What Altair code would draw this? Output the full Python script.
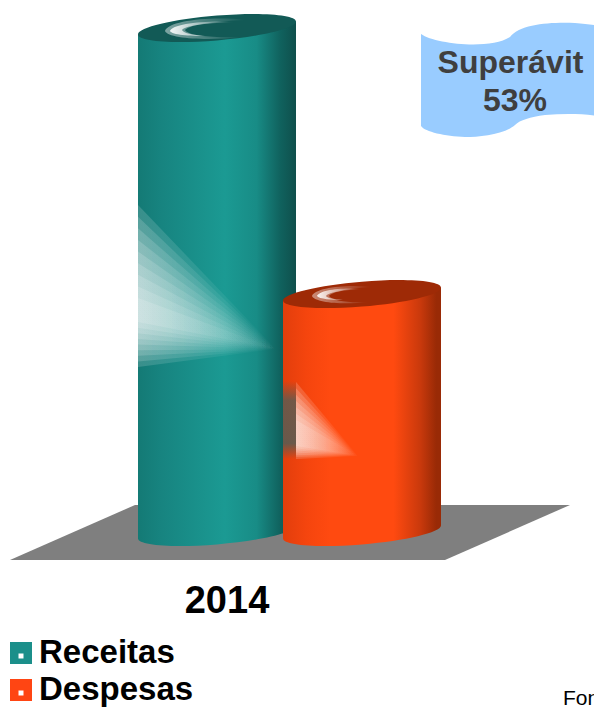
import altair as alt
import pandas as pd

# ---- chart values ----
categories = ["Receitas", "Despesas"]
values = [100.0, 47.2]
year_label = "2014"
note_lines = ["Superávit", "53%"]
source_text = "Fonte"

W, H = 586, 699
OX, OY = 8, 8
# y scale: value 0 sits at page y 532, 5.04 px per unit
Y_DOMAIN = [(532 - (OY + H)) / 5.04, (532 - OY) / 5.04]
TILT = 1.29
centres = {"Receitas": 217 - OX, "Despesas": 362 - OX}
HALF = 79


def px(v):
    return alt.value(v - OX)


def py(v):
    return alt.value(v - OY)


def linear(stops, x1=0, y1=0, x2=1, y2=0):
    return {"gradient": "linear", "x1": x1, "y1": y1, "x2": x2, "y2": y2,
            "stops": [{"offset": o, "color": c} for o, c in stops]}


def ellipse_path(s=-0.082, b=0.157, k=0.5523):
    Cx, Cy, Dx, Dy = 1, s, 0, b
    pts = [
        ("M", [(Cx, Cy)]),
        ("C", [(Cx + k * Dx, Cy + k * Dy), (Dx + k * Cx, Dy + k * Cy), (Dx, Dy)]),
        ("C", [(Dx - k * Cx, Dy - k * Cy), (-Cx + k * Dx, -Cy + k * Dy), (-Cx, -Cy)]),
        ("C", [(-Cx - k * Dx, -Cy - k * Dy), (-Dx - k * Cx, -Dy - k * Cy), (-Dx, -Dy)]),
        ("C", [(-Dx + k * Cx, -Dy + k * Cy), (Cx - k * Dx, Cy - k * Dy), (Cx, Cy)]),
    ]
    return " ".join(c + " ".join(f"{x:.4f},{y:.4f}" for x, y in p) for c, p in pts) + "Z"


ELLIPSE = ellipse_path()

teal_side = linear([(0, "#147a75"), (0.15, "#178480"), (0.55, "#1b9a93"), (0.75, "#188c86"),
                    (0.9, "#10625e"), (1, "#0f4f4c")])
orange_side = linear([(0, "#e23e0c"), (0.15, "#f5450e"), (0.3, "#ff4a10"), (0.7, "#ff4a10"),
                      (0.87, "#c9390c"), (0.97, "#992a06"), (1, "#992a06")])
sides = {"Receitas": teal_side, "Despesas": orange_side}
tops = {"Receitas": "#125a56", "Despesas": "#9e2a06"}

x_scale = alt.Scale(domain=[0, W], range=[0, W], nice=False, zero=False)
y_scale = alt.Scale(domain=Y_DOMAIN, nice=False, zero=False)


def glyph(path, fill, opacity=1):
    # decoration drawn by a custom symbol; path numbers are plot pixels from the symbol's origin
    return alt.Chart(pd.DataFrame({"k": [0]})).mark_point(
        shape=path, size=4, filled=True, color=fill, opacity=opacity, strokeWidth=0
    ).encode(x=alt.value(0), y=alt.value(0))


def pp(d):
    """Turn a page-pixel path (pairs 'x,y') into plot pixels."""
    out = []
    for tok in d.split():
        if "," in tok:
            cmd = ""
            if tok[0].isalpha():
                cmd, tok = tok[0], tok[1:]
            a, b = tok.split(",")
            out.append(f"{cmd}{float(a) - OX},{float(b) - OY}")
        else:
            out.append(tok)
    return " ".join(out)


def cylinder(name, value):
    c = centres[name]
    side = pd.DataFrame({
        "x": [c - HALF, c + HALF],
        "top": [value - TILT, value + TILT],
        "base": [-TILT, TILT],
    })
    point = pd.DataFrame({"x": [c], "v": [value], "b": [0.0]})
    X = alt.X("x:Q", scale=x_scale, axis=None)
    bottom = alt.Chart(point).mark_point(shape=ELLIPSE, size=(2 * HALF) ** 2, filled=True,
                                         color=sides[name], opacity=1, strokeWidth=0).encode(
        x=X, y=alt.Y("b:Q", scale=y_scale, axis=None))
    body = alt.Chart(side).mark_area(color=sides[name], opacity=1).encode(
        x=X, y=alt.Y("top:Q", scale=y_scale, axis=None), y2="base:Q")
    cap = alt.Chart(point).mark_point(shape=ELLIPSE, size=(2 * HALF) ** 2, filled=True,
                                      color=tops[name], opacity=1, strokeWidth=0).encode(
        x=X, y=alt.Y("v:Q", scale=y_scale, axis=None))
    return [bottom, body, cap]


def text(content, x, y, size, bold=True, color="#000000", align="left"):
    return alt.Chart(pd.DataFrame({"t": [content]})).mark_text(
        font="Liberation Sans", fontSize=size, fontWeight="bold" if bold else "normal",
        color=color, align=align, baseline="alphabetic"
    ).encode(text="t:N", x=px(x), y=py(y))


def square(x, y, size, color):
    return alt.Chart(pd.DataFrame({"k": [0]})).mark_square(
        size=size ** 2, color=color, opacity=1, strokeWidth=0
    ).encode(x=px(x), y=py(y))


def fan(left, tip_x, tip_y, top_a, top_b, bot_a, bot_b, n, alpha):
    """Nested translucent wedges that add up to a soft highlight."""
    fill = linear([(0, f"rgba(255,255,255,{alpha})"), (0.55, f"rgba(255,255,255,{alpha * 0.45})"),
                   (1, "rgba(255,255,255,0)")])
    out = []
    for i in range(n):
        t = i / (n - 1)
        top = top_a + t * (top_b - top_a)
        bot = bot_a + t * (bot_b - bot_a)
        out.append(glyph(pp(f"M{left},{top} L{tip_x},{tip_y} L{left},{bot} Z"), fill))
    return out


crescent_soft = linear([(0, "rgba(255,255,255,0.45)"), (0.25, "rgba(255,255,255,0.35)"),
                        (1, "rgba(255,255,255,0)")])
crescent_core = linear([(0, "rgba(255,255,255,0.9)"), (0.2, "rgba(255,255,255,0.7)"),
                        (1, "rgba(255,255,255,0)")])
dark_patch = linear([(0, "rgba(75,95,90,0)"), (0.25, "rgba(75,95,90,0.75)"),
                     (0.8, "rgba(75,95,90,0.8)"), (1, "rgba(75,95,90,0)")], 0, 0, 0, 1)

floor = glyph(pp("M10,560 L445,560 L570,505 L135,505 Z"), "#7f7f7f")
banner = glyph(pp("M421,34 C435,44 490,50 510,37 C520,24 550,22 575,23 C590,24 600,26 610,28 "
                  "L610,119 C595,114 570,113 545,115 C530,117 520,120 515,125 "
                  "C505,134 480,137 465,137 C445,136 425,132 421,126 Z"), "#99ccff")

teal_hl = fan(138, 276, 349, 205, 298, 367, 322, 9, 0.16) + [
    glyph(pp("M246,20 C210,16 168,21 165,31 C168,39 210,41 242,37 C215,38 188,36 185,30 "
             "C190,24 220,21 246,20 Z"), crescent_soft),
    glyph(pp("M235,22 C205,20 172,24 170,31 C172,35 190,36 205,36 C192,35 183,33 182,30 "
             "C186,25 210,23 235,22 Z"), crescent_core),
]
orange_hl = [glyph(pp("M283,381 L296,381 L296,459 L283,459 Z"), dark_patch)] + \
    fan(296, 358, 456, 382, 420, 459, 446, 7, 0.18) + [
    glyph(pp("M372,287 C345,284 315,288 312,296 C315,303 345,305 368,302 C348,303 333,301 329,296 "
             "C333,291 352,288 372,287 Z"), crescent_soft),
    glyph(pp("M362,289 C342,287 319,290 317,296 C319,299 332,300 343,300 C333,299 327,298 326,296 "
             "C329,292 345,290 362,289 Z"), crescent_core),
]

layers = [floor]
layers += cylinder(categories[0], values[0]) + teal_hl
layers += cylinder(categories[1], values[1]) + orange_hl
layers += [
    banner,
    text(note_lines[0], 510.5, 73, 32, color="#3f3f3f", align="center"),
    text(note_lines[1], 515, 111, 32, color="#3f3f3f", align="center"),
    text(year_label, 227, 613, 38, align="center"),
    square(21, 653, 22, "#1b8f8a"), square(21, 656, 5, "#ffffff"),
    text(categories[0], 39, 663, 33),
    square(21, 690, 22, "#ff4513"), square(21, 693, 5, "#ffffff"),
    text(categories[1], 39, 700, 33),
    text(source_text, 563, 705, 21, bold=False),
]

chart = alt.layer(*layers).resolve_scale(x="shared", y="shared").properties(
    width=W, height=H, padding=0, autosize=alt.AutoSizeParams(type="none"),
    background="#ffffff",
).configure_view(stroke=None)

chart.save("out.html", embed_options={"renderer": "svg", "actions": False})
